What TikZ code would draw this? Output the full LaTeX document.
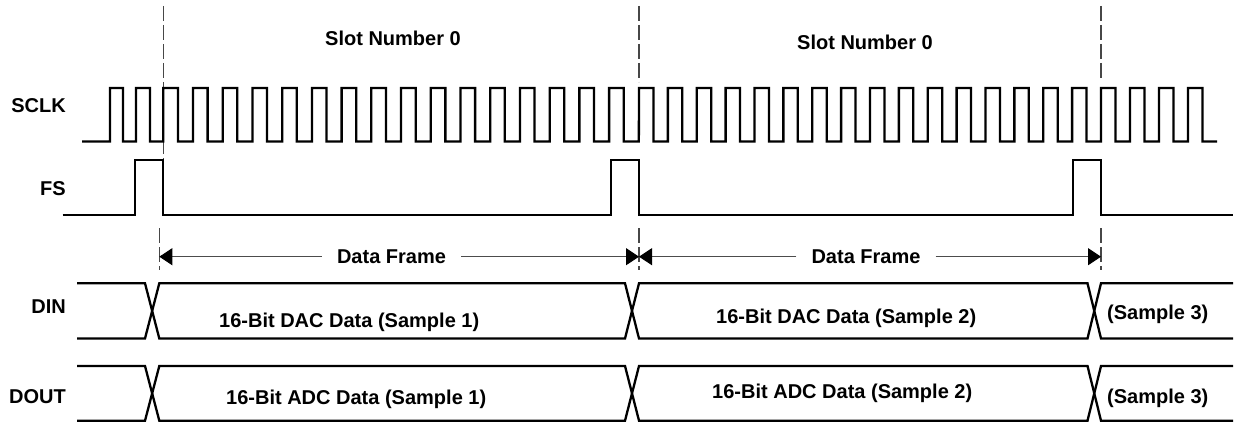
\documentclass[tikz,border=0pt]{standalone}
\usepackage{fontspec}
\setmainfont{Liberation Sans}
\usetikzlibrary{arrows.meta}
\begin{document}
\begin{tikzpicture}[x=1pt,y=-1pt,
  sig/.style={line width=2.3pt,black,line join=miter},
  guide/.style={line width=1.1pt,black!72,dash pattern=on 15pt off 4pt},
  dimline/.style={line width=1pt,black!70,-{Triangle[length=13pt,width=17pt,color=black]}},
  lbl/.style={font=\fontsize{20}{24}\selectfont\bfseries,inner sep=0pt},
  signame/.style={lbl,anchor=base east},
  txt/.style={lbl,anchor=base west},
  frame/.style={lbl,inner xsep=15pt}]
\useasboundingbox (0,0) rectangle (1236,422);
\def\hi{88}\def\lo{141.5}
% guide lines
\draw[guide] (163.3,6) -- (163.3,160);
\draw[guide] (639,6) -- (639,82);
\draw[guide] (1101,6) -- (1101,80);
\draw[guide] (159.3,228) -- (159.3,270);
\draw[guide] (639,228) -- (639,270);
\draw[guide] (1101,228) -- (1101,270);
% SCLK
\draw[sig] (82,\lo) -- (110,\lo) -- (110,\hi) -- (123,\hi) -- (123,\lo) -- (136,\lo) -- (136,\hi) -- (150,\hi) -- (150,\lo) -- (163.3,\lo)
  \foreach \i in {0,...,15}{ -- ({163.3+\i*29.72},\hi) -- ({163.3+\i*29.72+14.6},\hi) -- ({163.3+\i*29.72+14.6},\lo) -- ({163.3+(\i+1)*29.72},\lo) }
  \foreach \i in {0,...,15}{ -- ({639+\i*28.875},\hi) -- ({639+\i*28.875+14.4},\hi) -- ({639+\i*28.875+14.4},\lo) -- ({639+(\i+1)*28.875},\lo) }
  \foreach \i in {0,...,3}{ -- ({1101+\i*29},\hi) -- ({1101+\i*29+14.5},\hi) -- ({1101+\i*29+14.5},\lo) -- ({1101+(\i+1)*29},\lo) };
% FS
\draw[sig] (62.7,215) -- (135,215) -- (135,160) -- (163.3,160) -- (163.3,215) -- (611,215) -- (611,160) -- (639,160) -- (639,215) -- (1073.3,215) -- (1073.3,160) -- (1101,160) -- (1101,215) -- (1233,215);
% DIN
\draw[sig] (77,283.3) -- (145,283.3) -- (159.3,338.5) -- (625,338.5) -- (639,283.3) -- (1087.5,283.3) -- (1101,338.5) -- (1233,338.5);
\draw[sig] (77,338.5) -- (145,338.5) -- (159.3,283.3) -- (625,283.3) -- (639,338.5) -- (1087.5,338.5) -- (1101,283.3) -- (1233,283.3);
% DOUT
\draw[sig] (77,366) -- (145,366) -- (159.3,420.7) -- (625,420.7) -- (639,366) -- (1087.5,366) -- (1101,420.7) -- (1233,420.7);
\draw[sig] (77,420.7) -- (145,420.7) -- (159.3,366) -- (625,366) -- (639,420.7) -- (1087.5,420.7) -- (1101,366) -- (1233,366);
% signal names
\node[signame] (nsclk) at (66,113) {SCLK};
\node[signame] (nfs) at (66,196) {FS};
\node[signame] (ndin) at (66,313) {DIN};
\node[signame] (ndout) at (66,403) {DOUT};
% slot labels
\node[txt] (slot1) at (325,45.5) {Slot Number 0};
\node[txt] (slot2) at (797,50) {Slot Number 0};
% data frame arrows
\coordinate (f0) at (159.3,256.7);
\coordinate (f1) at (639,256.7);
\coordinate (f2) at (1101,256.7);
\node[frame] (df1) at (391.5,256.7) {Data Frame};
\node[frame] (df2) at (866,256.7) {Data Frame};
\draw[dimline] (df1.west) -- (f0);
\draw[dimline] (df1.east) -- (f1);
\draw[dimline] (df2.west) -- (f1);
\draw[dimline] (df2.east) -- (f2);
% data labels
\node[txt] (din1) at (219,327) {16-Bit DAC Data (Sample 1)};
\node[txt] (din2) at (716,323) {16-Bit DAC Data (Sample 2)};
\node[txt] (din3) at (1107,319.5) {(Sample 3)};
\node[txt] (dout1) at (226,404.5) {16-Bit ADC Data (Sample 1)};
\node[txt] (dout2) at (712,398) {16-Bit ADC Data (Sample 2)};
\node[txt] (dout3) at (1107,403) {(Sample 3)};
\end{tikzpicture}
\end{document}
